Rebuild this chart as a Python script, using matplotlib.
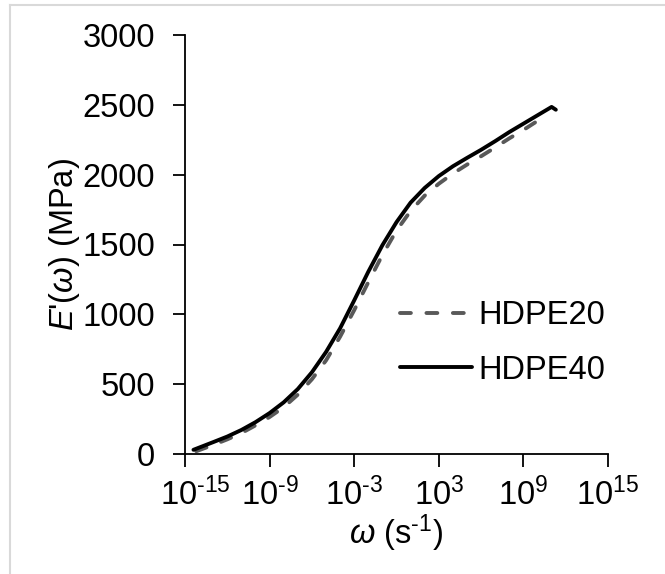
import numpy as np
import matplotlib
matplotlib.use("Agg")
import matplotlib.pyplot as plt
from matplotlib.lines import Line2D
import matplotlib.transforms as mtransforms

plt.rcParams['font.family'] = ['Liberation Sans', 'DejaVu Sans']
plt.rcParams['mathtext.fontset'] = 'custom'
plt.rcParams['mathtext.rm'] = 'Liberation Sans'
plt.rcParams['mathtext.it'] = 'Liberation Sans:italic'
plt.rcParams['mathtext.default'] = 'regular'

# log10(omega) and E' (MPa)
log_omega_40 = [-14.4, -13, -12, -11, -10, -9, -8, -7, -6, -5, -4, -3, -2, -1, 0, 1,
                2, 3, 4, 5, 6, 7, 8, 9, 10, 11, 11.3]
E_40 = [30, 85, 125, 172, 228, 293, 370, 465, 585, 730, 900, 1100, 1305, 1495, 1660, 1800,
        1905, 1990, 2060, 2120, 2178, 2240, 2305, 2365, 2425, 2485, 2465]

log_omega_20 = [-14.2, -13, -12, -11, -10, -9, -8, -7, -6, -5, -4, -3, -2, -1, 0, 1,
                2, 3, 4, 5, 6, 7, 8, 9, 10, 10.4]
E_20 = [20, 65, 105, 150, 205, 265, 335, 425, 535, 670, 840, 1030, 1230, 1425, 1600, 1740,
        1850, 1935, 2008, 2072, 2132, 2195, 2260, 2320, 2385, 2405]

series_names = ["HDPE20", "HDPE40"]
x_ticks_exp = [-15, -9, -3, 3, 9, 15]
y_ticks = [0, 500, 1000, 1500, 2000, 2500, 3000]

fs = 23.5
fig = plt.figure(figsize=(6.65, 5.74), dpi=100)
ax = fig.add_axes([185/665, 1-454/574, (608-185)/665, (454-35)/574])

om20 = np.power(10.0, log_omega_20)
om40 = np.power(10.0, log_omega_40)
ax.plot(om20, E_20, color='#595959', lw=2.8, ls=(0, (2.8, 4.0)), dash_capstyle='round',
        label=series_names[0], zorder=2)
ax.plot(om40, E_40, color='black', lw=2.8, solid_capstyle='round', solid_joinstyle='round',
        label=series_names[1], zorder=3)

ax.set_xscale('log')
ax.set_xlim(10.0**x_ticks_exp[0], 10.0**x_ticks_exp[-1])
ax.set_ylim(y_ticks[0], y_ticks[-1])
ax.set_xticks([10.0**e for e in x_ticks_exp])
ax.set_xticklabels([r"10$^{%s}$" % str(e).replace('-', '\u2010') for e in x_ticks_exp])
ax.xaxis.set_minor_locator(matplotlib.ticker.NullLocator())
ax.set_yticks(y_ticks)
ax.set_yticklabels([str(v) for v in y_ticks])

for s in ['top', 'right']:
    ax.spines[s].set_visible(False)
for s in ['left', 'bottom']:
    ax.spines[s].set_linewidth(1.3)
    ax.spines[s].set_color('black')
ax.tick_params(axis='both', labelsize=fs, length=9, width=1.3, direction='out')
ax.tick_params(axis='y', pad=12.5)
ax.tick_params(axis='x', pad=8)

# first x tick label is nudged right, as in the reference
first = ax.get_xticklabels()[0]
first.set_transform(first.get_transform() +
                    mtransforms.ScaledTranslation(10/100, 0, fig.dpi_scale_trans))

ax.set_xlabel("$\\mathit{\u03c9}$ (s$^{\u20101}$)", fontsize=fs, labelpad=0)
ax.set_ylabel(r"$\mathit{E}$'($\mathit{ω}$) (MPa)", fontsize=fs, labelpad=0.5)

leg = ax.legend(loc='center left', bbox_to_anchor=(0.44, 0.265), frameon=False,
                fontsize=fs, handlelength=2.2, handletextpad=0.2, labelspacing=0.72)

# light figure border (top and left visible)
fig.add_artist(Line2D([10/665, 10/665], [0, 1-5/574], color='#d9d9d9', lw=1.5,
                      transform=fig.transFigure))
fig.add_artist(Line2D([10/665, 1], [1-5/574, 1-5/574], color='#d9d9d9', lw=1.5,
                      transform=fig.transFigure))

fig.savefig("out.png", dpi=100)
